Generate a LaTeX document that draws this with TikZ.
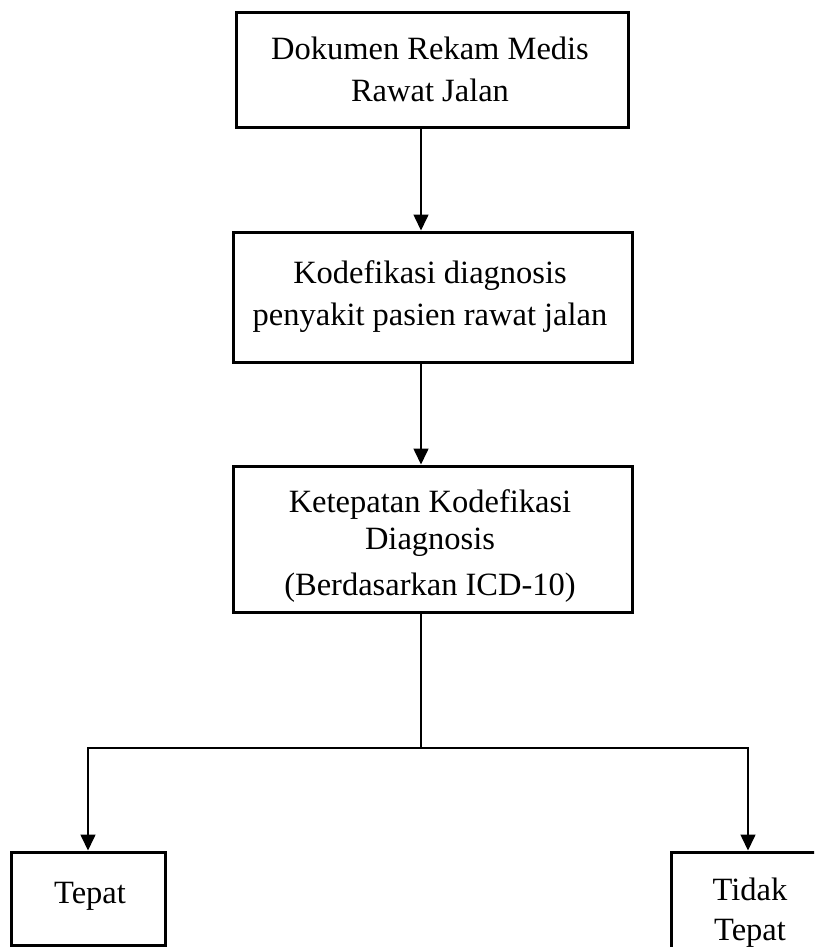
\documentclass[tikz,border=0pt]{standalone}
\usepackage{fontspec}
\setmainfont{Liberation Serif}
\usetikzlibrary{arrows.meta,calc}
\tikzset{
  box/.style={draw=black, line width=3pt, fill=none, inner sep=0pt},
  txt/.style={font=\fontsize{32.5}{42}\selectfont, anchor=base, inner sep=0pt},
  conn/.style={draw=black, line width=1.6pt},
  arr/.style={conn, -{Triangle[width=15pt,length=16pt]}}
}
\begin{document}
\begin{tikzpicture}[x=1pt,y=-1pt]
\clip (0,0) rectangle (814,947);
\fill[white] (0,0) rectangle (814,947);
% boxes
\node[box, minimum width=392pt, minimum height=115pt] (b1) at (432,70.5) {};
\node[box, minimum width=399pt, minimum height=130pt] (b2) at (432.5,297) {};
\node[box, minimum width=399pt, minimum height=146pt] (b3) at (432.5,539) {};
\node[box, minimum width=154pt, minimum height=93pt] (t1) at (88,898.5) {};
\node[box, minimum width=154pt, minimum height=110pt] (t2) at (748,907) {};
% texts
\node[txt] (l1a) at (430,60) {Dokumen Rekam Medis};
\node[txt] (l1b) at (430,102) {Rawat Jalan};
\node[txt] (l2a) at (430,283) {Kodefikasi diagnosis};
\node[txt] (l2b) at (430,325) {penyakit pasien rawat jalan};
\node[txt] (l3a) at (430,512) {Ketepatan Kodefikasi};
\node[txt] (l3b) at (430,549) {Diagnosis};
\node[txt] (l3c) at (430,595) {(Berdasarkan ICD-10)};
\node[txt] (l4) at (90,903) {Tepat};
\node[txt] (l5a) at (750,900) {Tidak};
\node[txt] (l5b) at (750,940) {Tepat};
% connectors
\coordinate (ax) at (421,0);
\coordinate (split) at (421,748);
\draw[arr] (b1.south -| ax) -- (b2.north -| ax);
\draw[arr] (b2.south -| ax) -- (b3.north -| ax);
\draw[conn] (b3.south -| ax) -- (split);
\draw[arr] (split) -| (t1.north);
\draw[arr] (split) -| (t2.north);
\end{tikzpicture}
\end{document}
